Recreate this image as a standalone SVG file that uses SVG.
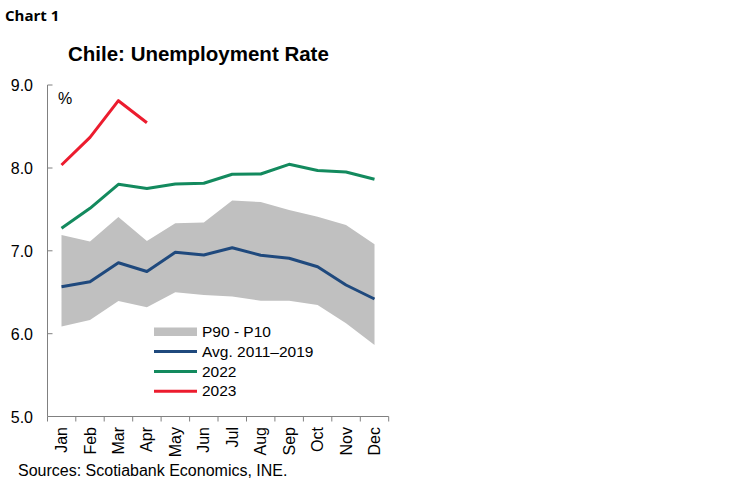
<svg xmlns="http://www.w3.org/2000/svg" width="748" height="483" viewBox="0 0 748 483">
<style>
.ax{stroke:#808080;stroke-width:1;fill:none}
.t{font-family:"Liberation Sans",Arial,sans-serif;fill:#000}
.tick{font-size:16px;text-anchor:end}
.mon{font-size:16px;text-anchor:end}
.leg{font-size:15.5px}
.ln{fill:none;stroke-width:3;stroke-linejoin:round;stroke-linecap:butt}
</style>
<rect width="748" height="483" fill="#fff"/>
<g id="header">
<text x="5" y="21" style="font-family:'Open Sans','Noto Sans',sans-serif;font-weight:bold;font-size:15px">Chart 1</text>
<text class="t" x="68" y="61" style="font-weight:bold;font-size:20.5px">Chile: Unemployment Rate</text>
</g>
<g id="band">
<polygon fill="#C0C0C0" points="61.5,235 90,241.5 118.4,217 146.9,241 175.3,223.3 203.8,222.5 232.2,200.5 260.7,202 289.1,210 317.6,216.7 346,225 374.5,244.3 374.5,345 346,323.3 317.6,305 289.1,300.7 260.7,300.7 232.2,296.5 203.8,295 175.3,292.3 146.9,307.3 118.4,301 90,320 61.5,326.5"/>
</g>
<g id="axes">
<path class="ax" d="M47.5,85 V416.5 H388.7 M47.5,85 h5 M47.5,168 h5 M47.5,250.8 h5 M47.5,333.7 h5"/>
<path class="ax" d="M75.8,416.5 v5 M104.2,416.5 v5 M132.7,416.5 v5 M161.1,416.5 v5 M189.6,416.5 v5 M218,416.5 v5 M246.5,416.5 v5 M274.9,416.5 v5 M303.4,416.5 v5 M331.8,416.5 v5 M360.3,416.5 v5 M388.7,416.5 v5 M47.5,416.5 v5"/>
<text class="t tick" x="33" y="91">9.0</text>
<text class="t tick" x="33" y="174">8.0</text>
<text class="t tick" x="33" y="257">7.0</text>
<text class="t tick" x="33" y="340">6.0</text>
<text class="t tick" x="33" y="423">5.0</text>
<text class="t" x="58" y="104" style="font-size:16px">%</text>
<g class="t mon">
<text transform="translate(67,427) rotate(-90)">Jan</text>
<text transform="translate(95.5,427) rotate(-90)">Feb</text>
<text transform="translate(123.9,427) rotate(-90)">Mar</text>
<text transform="translate(152.4,427) rotate(-90)">Apr</text>
<text transform="translate(180.8,427) rotate(-90)">May</text>
<text transform="translate(209.3,427) rotate(-90)">Jun</text>
<text transform="translate(237.7,427) rotate(-90)">Jul</text>
<text transform="translate(266.2,427) rotate(-90)">Aug</text>
<text transform="translate(294.6,427) rotate(-90)">Sep</text>
<text transform="translate(323.1,427) rotate(-90)">Oct</text>
<text transform="translate(351.5,427) rotate(-90)">Nov</text>
<text transform="translate(380,427) rotate(-90)">Dec</text>
</g>
</g>
<g id="connectors">
<polyline id="avg" class="ln" stroke="#1F497D" points="61.5,286.7 90,281.7 118.4,262.7 146.9,271.5 175.3,252.3 203.8,255 232.2,247.7 260.7,255.3 289.1,258.3 317.6,266.7 346,285 374.5,299"/>
<polyline id="y2022" class="ln" stroke="#138A5E" points="61.5,228.3 90,208.3 118.4,184.3 146.9,188.5 175.3,184 203.8,183.3 232.2,174.3 260.7,174 289.1,164.3 317.6,170.5 346,172 374.5,179.3"/>
<polyline id="y2023" class="ln" stroke="#EC1C2E" points="61.5,165 90,137.3 118.4,100.7 146.9,122.7"/>
</g>
<g id="legend">
<rect x="154" y="327.5" width="43" height="8.5" fill="#C0C0C0"/>
<line x1="154" y1="351.5" x2="197" y2="351.5" stroke="#1F497D" stroke-width="3"/>
<line x1="154" y1="371.5" x2="197" y2="371.5" stroke="#138A5E" stroke-width="3"/>
<line x1="154" y1="391.3" x2="197" y2="391.3" stroke="#EC1C2E" stroke-width="3"/>
<text class="t leg" x="202" y="336.5">P90 - P10</text>
<text class="t leg" x="202" y="356.5">Avg. 2011–2019</text>
<text class="t leg" x="202" y="376.5">2022</text>
<text class="t leg" x="202" y="396.3">2023</text>
</g>
<g id="footer">
<text class="t" x="18" y="476" style="font-size:16px">Sources: Scotiabank Economics, INE.</text>
</g>
</svg>
